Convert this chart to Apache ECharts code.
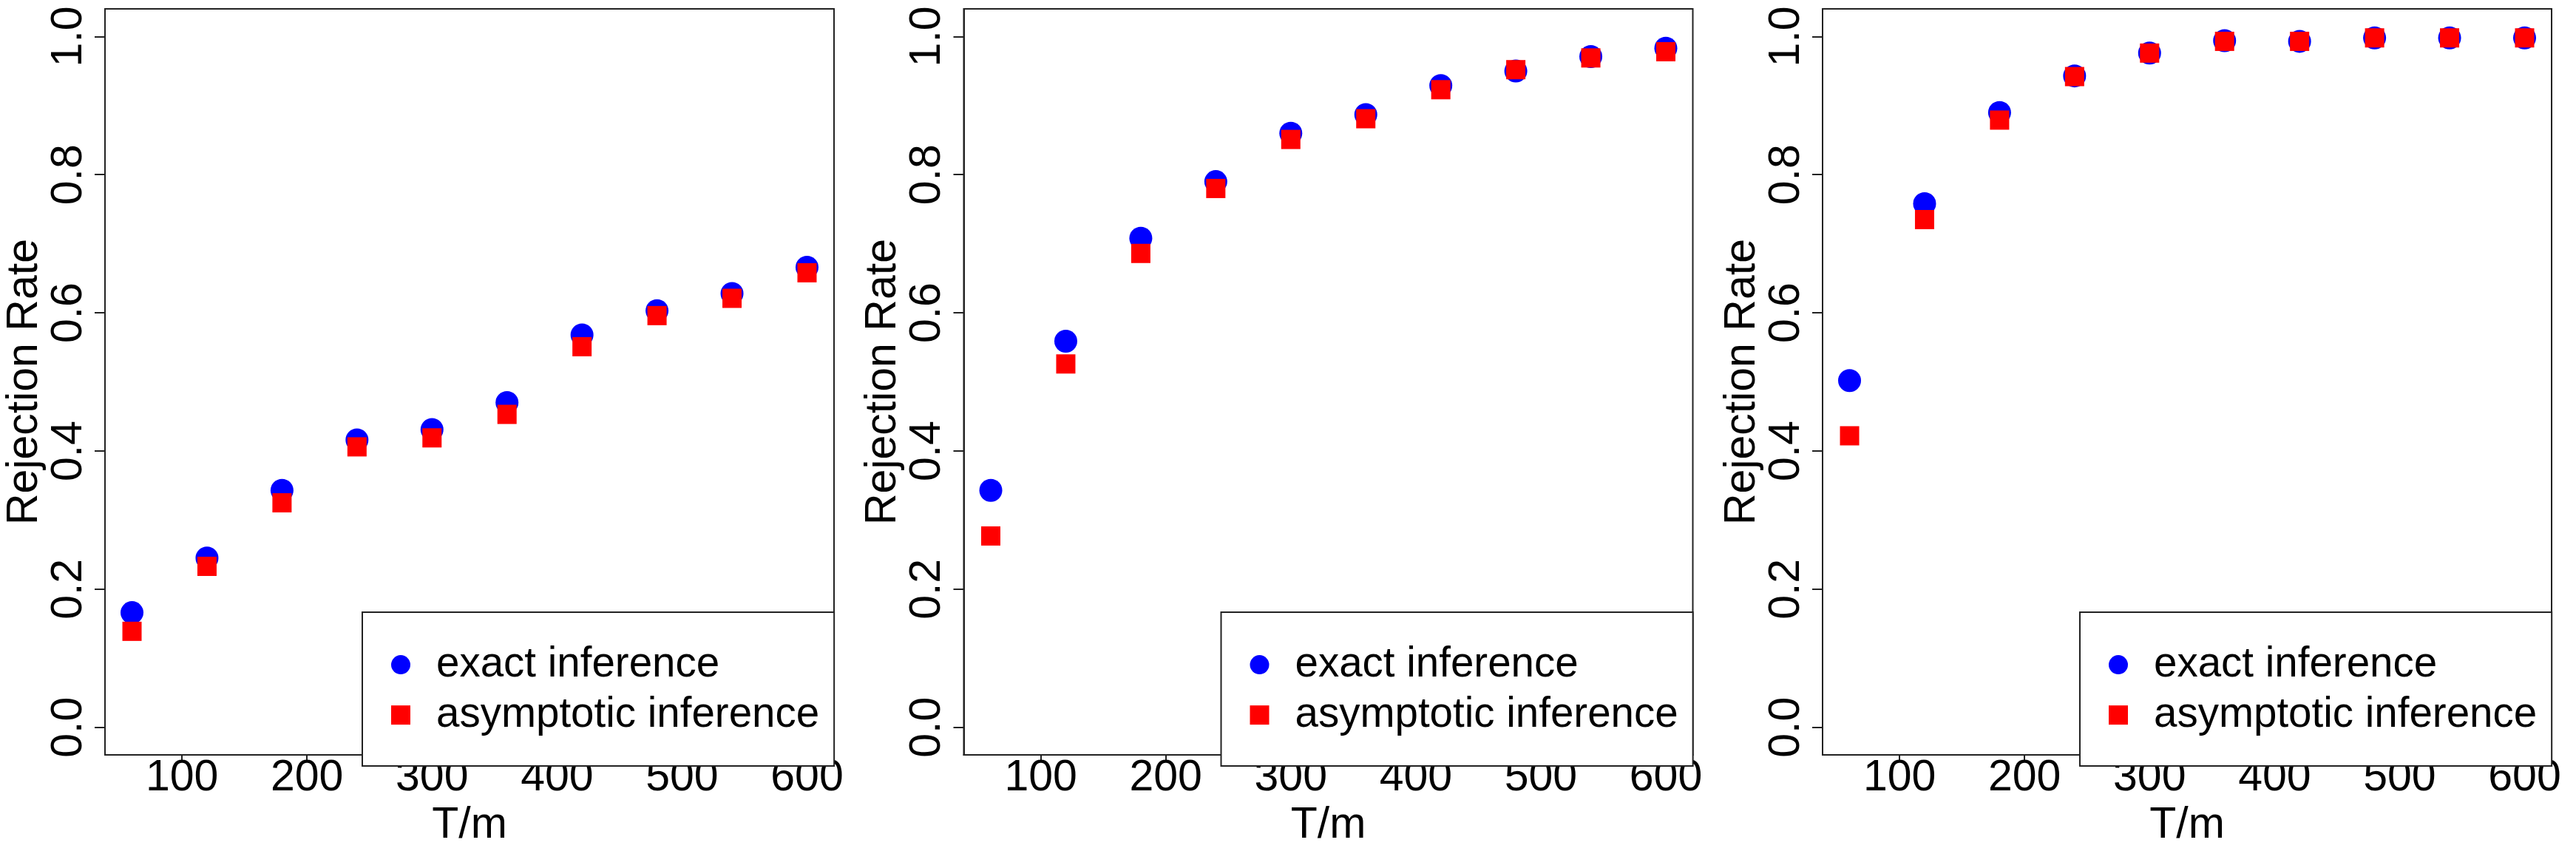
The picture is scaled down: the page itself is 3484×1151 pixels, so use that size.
<!DOCTYPE html>
<html>
<head>
<meta charset="utf-8">
<script src="https://cdn.jsdelivr.net/npm/echarts@6/dist/echarts.min.js"></script>
<style>
html,body{margin:0;padding:0;background:#fff;}
#chart{width:3484px;height:1151px;}
</style>
</head>
<body>
<div id="chart"></div>
<script>
const categories = [60, 120, 180, 240, 300, 360, 420, 480, 540, 600];
const exact1 = [0.166, 0.245, 0.343, 0.416, 0.431, 0.470, 0.568, 0.603, 0.628, 0.666];
const asym1  = [0.139, 0.233, 0.325, 0.406, 0.419, 0.453, 0.551, 0.596, 0.621, 0.658];
const exact2 = [0.343, 0.559, 0.708, 0.790, 0.860, 0.887, 0.929, 0.950, 0.971, 0.983];
const asym2  = [0.277, 0.526, 0.686, 0.780, 0.851, 0.881, 0.923, 0.952, 0.969, 0.978];
const exact3 = [0.502, 0.758, 0.890, 0.943, 0.976, 0.994, 0.993, 0.998, 0.998, 0.998];
const asym3  = [0.422, 0.735, 0.879, 0.942, 0.976, 0.993, 0.993, 0.998, 0.998, 0.998];
const yTicks = [0, 0.2, 0.4, 0.6, 0.8, 1.0];
const xTicks = [100, 200, 300, 400, 500, 600];
const seriesNames = ['exact inference', 'asymptotic inference'];
const xTitle = 'T/m';
const yTitle = 'Rejection Rate';

const panels = [[exact1, asym1], [exact2, asym2], [exact3, asym3]];
const FONT = 'Liberation Sans';
const FS_TICK = 59, FS_TITLE = 59, FS_LEG = 56.5;
const chart = echarts.init(document.getElementById('chart'));

const grids = [], xAxes = [], yAxes = [], series = [], legends = [];
panels.forEach((p, k) => {
  const off = k * 1161.5;
  grids.push({left: 142 + off, width: 986, top: 12, bottom: 117, show: true,
    borderColor: '#222', borderWidth: 2, backgroundColor: 'transparent'});
  xAxes.push({type: 'value', gridIndex: k, min: 38.4, max: 621.6,
    name: xTitle, nameLocation: 'middle', nameGap: 54,
    nameTextStyle: {fontFamily: FONT, fontSize: FS_TITLE, color: '#000'},
    axisLine: {show: true, onZero: false, lineStyle: {color: '#222', width: 2}},
    axisTick: {show: true, length: 10, customValues: xTicks, lineStyle: {color: '#222', width: 2}},
    axisLabel: {show: true, customValues: xTicks, margin: 2, fontFamily: FONT, fontSize: FS_TICK, color: '#000'},
    splitLine: {show: false}});
  yAxes.push({type: 'value', gridIndex: k, min: -0.04, max: 1.04,
    name: yTitle, nameLocation: 'middle', nameGap: 76,
    nameTextStyle: {fontFamily: FONT, fontSize: FS_TITLE, color: '#000'},
    axisLine: {show: true, onZero: false, lineStyle: {color: '#222', width: 2}},
    axisTick: {show: true, length: 14, customValues: yTicks, lineStyle: {color: '#222', width: 2}},
    axisLabel: {show: true, customValues: yTicks, rotate: 90, margin: 19, fontFamily: FONT, fontSize: FS_TICK, color: '#000',
      formatter: v => Number(v).toFixed(1)},
    splitLine: {show: false}});
  series.push({type: 'scatter', name: seriesNames[0], xAxisIndex: k, yAxisIndex: k,
    symbol: 'circle', symbolSize: 31, itemStyle: {color: '#0000FF', opacity: 1},
    data: categories.map((x, i) => [x, p[0][i]]), z: 2, animation: false});
  series.push({type: 'scatter', name: seriesNames[1], xAxisIndex: k, yAxisIndex: k,
    symbol: 'rect', symbolSize: 26, itemStyle: {color: '#FF0000', opacity: 1},
    data: categories.map((x, i) => [x, p[1][i]]), z: 3, animation: false});
  legends.push({orient: 'vertical', left: 490 + off, top: 828,
    padding: [42.6, 20, 40.4, 39], itemGap: 11, itemWidth: 26, itemHeight: 26,
    borderColor: '#222', borderWidth: 2, backgroundColor: '#fff', selectedMode: false,
    textStyle: {fontFamily: FONT, fontSize: FS_LEG, color: '#000', padding: [0, 0, 0, 30]},
    data: [{name: seriesNames[0], icon: 'circle'}, {name: seriesNames[1], icon: 'rect'}]});
});

chart.setOption({
  animation: false,
  backgroundColor: '#fff',
  grid: grids, xAxis: xAxes, yAxis: yAxes, series: series, legend: legends
});
</script>
</body>
</html>
